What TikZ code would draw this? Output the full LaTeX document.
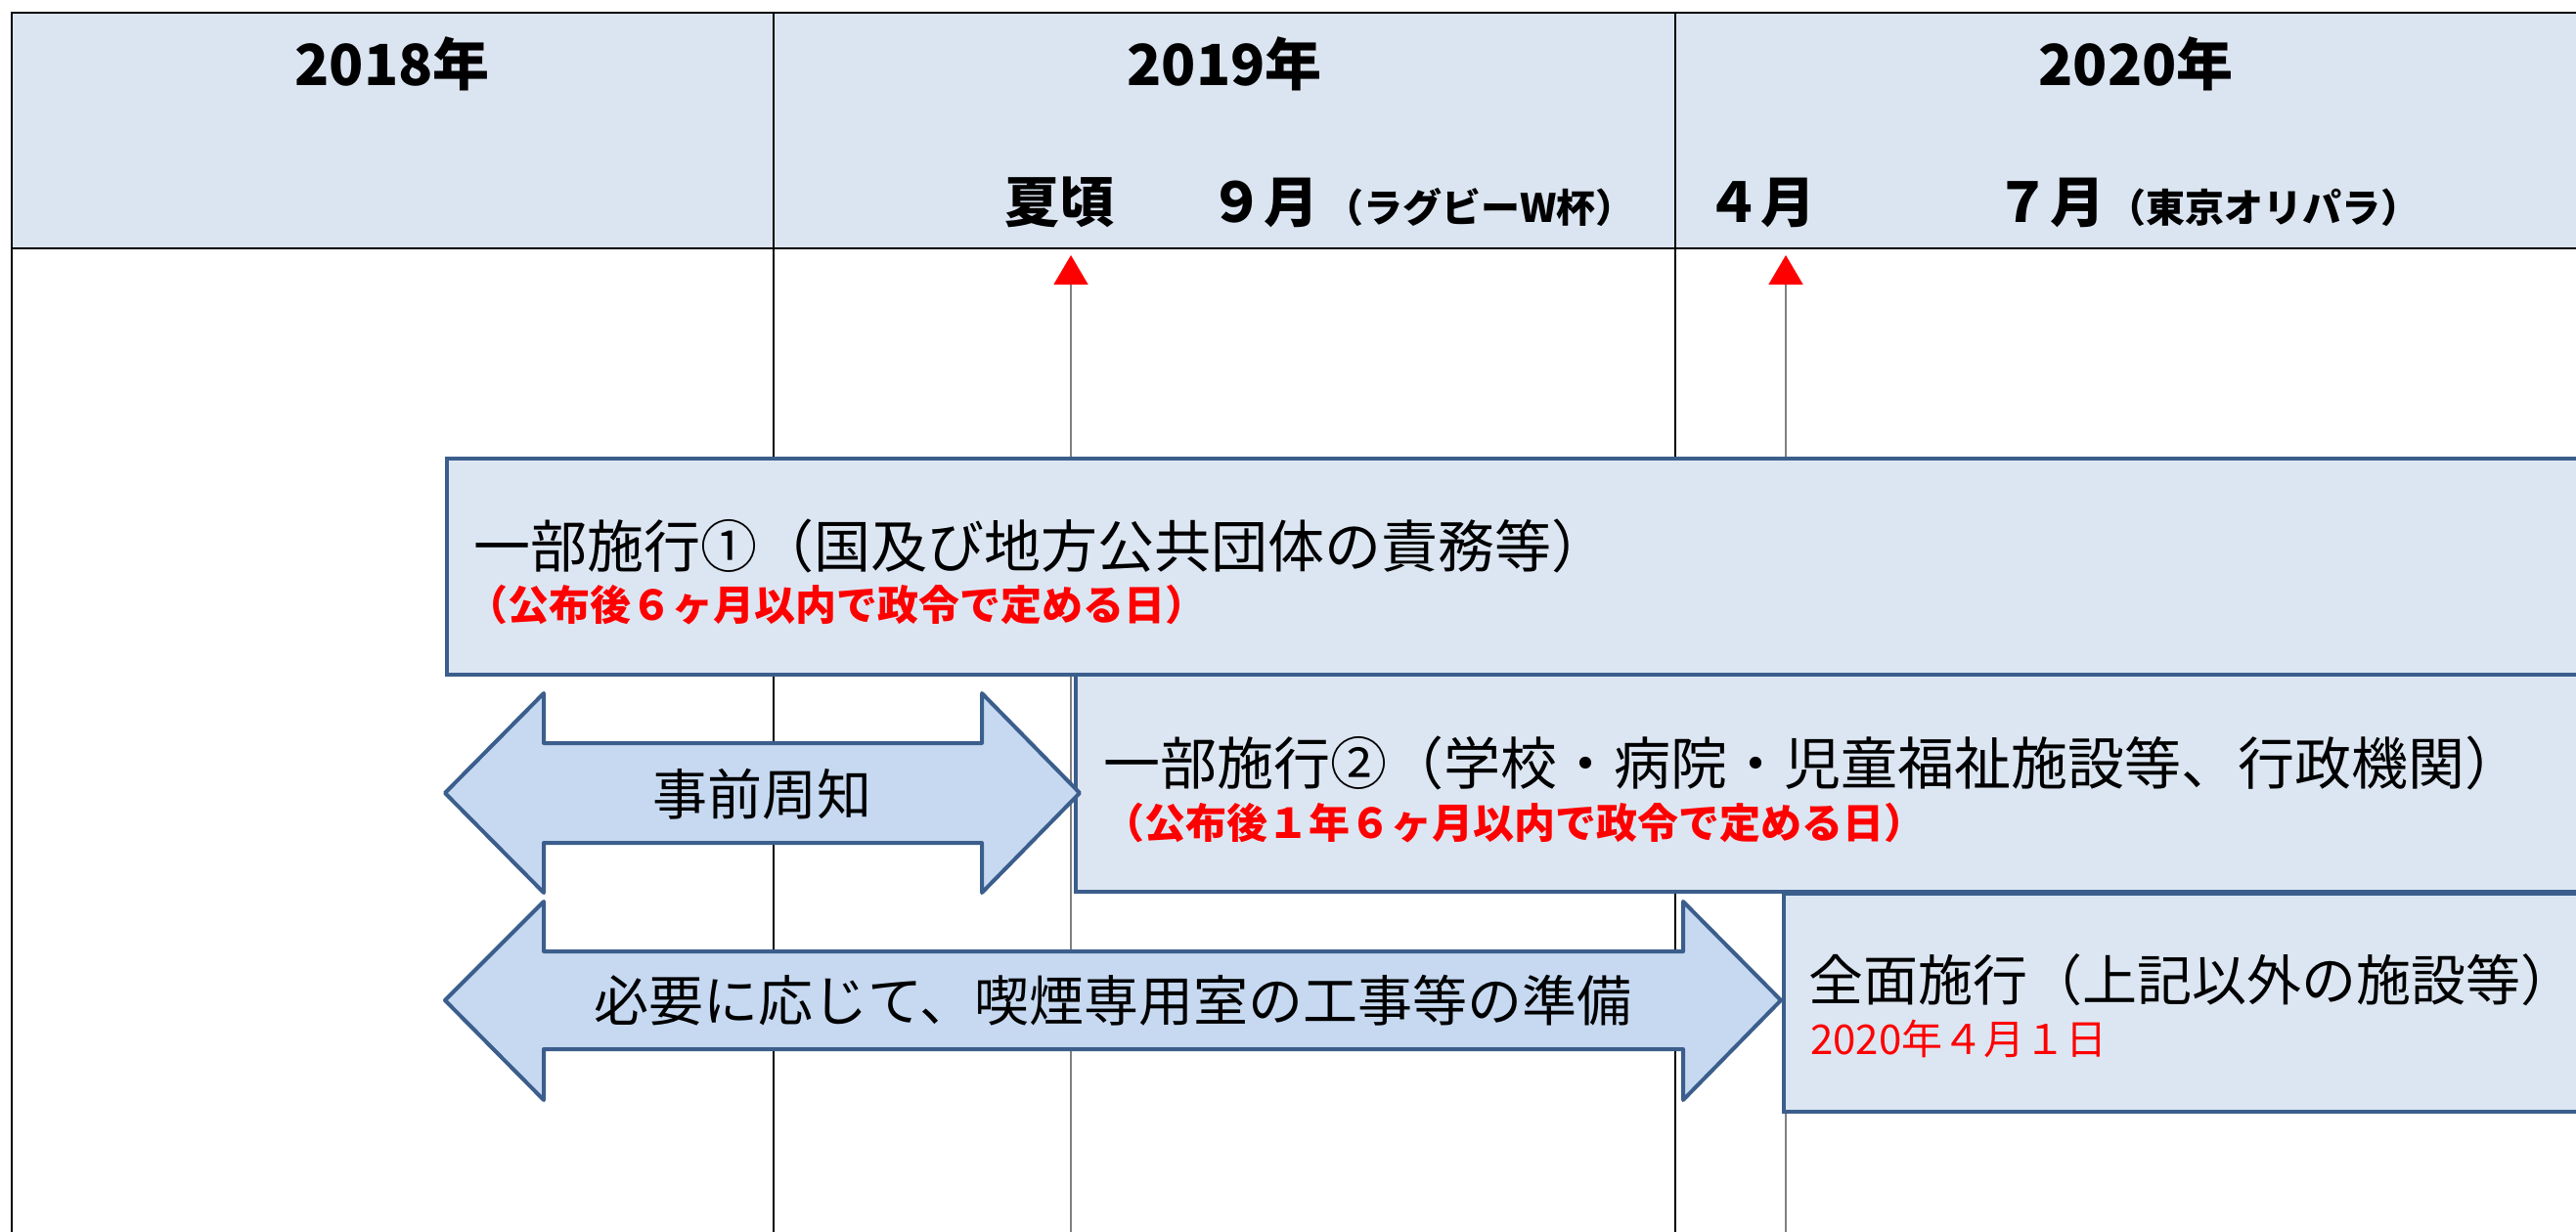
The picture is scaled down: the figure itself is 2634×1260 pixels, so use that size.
\documentclass[tikz,border=0pt]{standalone}
\usepackage{fontspec}
\setmainfont{Noto Sans CJK JP}
\usepackage{tikz}
\usetikzlibrary{arrows.meta}
\definecolor{hdrfill}{HTML}{DBE5F1}
\definecolor{boxfill}{HTML}{DCE6F2}
\definecolor{boxline}{HTML}{3B5E8C}
\definecolor{arrowfill}{HTML}{C6D9F1}
\tikzset{
yearlbl/.style={font=\fontsize{58}{60}\selectfont\bfseries,anchor=base,inner sep=0pt},
monthlbl/.style={font=\fontsize{56}{60}\selectfont\bfseries,anchor=base west,inner sep=0pt},
notelbl/.style={font=\fontsize{40}{44}\selectfont\bfseries,anchor=base west,inner sep=0pt},
shikobox/.style={draw=boxline,line width=4pt,fill=boxfill,anchor=north west,inner sep=0pt},
bigtxt/.style={font=\fontsize{58}{62}\selectfont,anchor=west,inner sep=0pt},
redtxt/.style={font=\fontsize{42}{46}\selectfont,text=red,anchor=west,inner sep=0pt},
dblarrow/.style={draw=boxline,line width=4pt,fill=arrowfill,line join=round},
marker/.style={draw=gray,line width=1.5pt,-{Triangle[width=35pt,length=30pt,color=red]}}
}
\begin{document}
\begin{tikzpicture}[x=1pt,y=-1pt]
\clip (0,0) rectangle (2634,1260);
\fill[white] (0,0) rectangle (2634,1260);
\fill[hdrfill] (12,13) rectangle (2680,254);
\draw[line width=2.5pt] (2680,13)--(12,13)--(12,1260);
\draw[line width=2.5pt] (12,254)--(2680,254);
\draw[line width=2pt] (791,13)--(791,1260);
\draw[line width=2pt] (1713,13)--(1713,1260);
% year row
\node[yearlbl] (y2018) at (401,88) {2018年};
\node[yearlbl] (y2019) at (1252,88) {2019年};
\node[yearlbl] (y2020) at (2184,88) {2020年};
% month row
\node[monthlbl] (natsu) at (1027,228) {夏頃};
\node[monthlbl] (sep9) at (1236,228) {９月};
\node[notelbl] (rugby) at (1354,228) {（ラグビーW杯）};
\node[monthlbl] (apr4) at (1744,228) {４月};
\node[monthlbl] (jul7) at (2040,228) {７月};
\node[notelbl] (olypara) at (2154,228) {（東京オリパラ）};
% markers
\coordinate (natsuTop) at (1095,261);
\coordinate (natsuBot) at (1095,1260);
\coordinate (aprTop) at (1826,261);
\coordinate (aprBot) at (1826,1260);
\draw[marker] (natsuBot)--(natsuTop);
\draw[marker] (aprBot)--(aprTop);
% enforcement boxes
\node[shikobox,minimum width=2220pt,minimum height=221pt] (shikoA) at (455,467) {};
\node[shikobox,minimum width=1580pt,minimum height=222pt] (shikoB) at (1098,688) {};
\node[shikobox,minimum width=860pt,minimum height=223pt] (zenmen) at (1822,912) {};
\node[bigtxt] (shikoAtxt) at (484,558) {一部施行①（国及び地方公共団体の責務等）};
\node[redtxt,font=\fontsize{42}{46}\selectfont\bfseries] (shikoAnote) at (477,619) {（公布後６ヶ月以内で政令で定める日）};
\node[bigtxt] (shikoBtxt) at (1128,780) {一部施行②（学校・病院・児童福祉施設等、行政機関）};
\node[redtxt,font=\fontsize{42}{46}\selectfont\bfseries] (shikoBnote) at (1128,842) {（公布後１年６ヶ月以内で政令で定める日）};
\node[bigtxt,font=\fontsize{56}{60}\selectfont] (zenmentxt) at (1849,1002) {全面施行（上記以外の施設等）};
\node[redtxt] (zenmennote) at (1851,1062) {2020年４月１日};
% preparation arrows
\draw[dblarrow] (455,811)--(556,709)--(556,760)--(1004,760)--(1004,709)--(1104,811)--(1004,913)--(1004,862)--(556,862)--(556,913)--cycle;
\draw[dblarrow] (455,1023)--(556,922)--(556,973)--(1721,973)--(1721,922)--(1821,1023)--(1721,1125)--(1721,1073)--(556,1073)--(556,1125)--cycle;
\node[font=\fontsize{56}{60}\selectfont] (jizen) at (779,812) {事前周知};
\node[font=\fontsize{56}{60}\selectfont] (junbi) at (1138,1023) {必要に応じて、喫煙専用室の工事等の準備};
\end{tikzpicture}
\end{document}
